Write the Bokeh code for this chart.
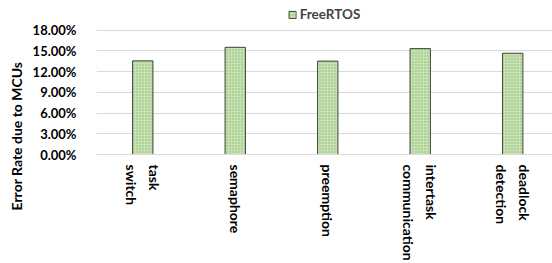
import math
from bokeh.plotting import figure
from bokeh.models import (ColumnDataSource, Range1d, FixedTicker, NumeralTickFormatter,
                          Legend, LegendItem, Title)
from bokeh.embed import file_html
from bokeh.resources import INLINE

categories = ["task\nswitch", "semaphore", "preemption", "intertask\ncommunication", "deadlock\ndetection"]
freertos = [0.1356, 0.1552, 0.1352, 0.1533, 0.1466]
y_ticks = [0.0, 0.03, 0.06, 0.09, 0.12, 0.15, 0.18]
series_name = "FreeRTOS"
y_label = "Error Rate due to MCUs"

FONT = "Lato"
positions = [i + 0.5 for i in range(len(categories))]
src = ColumnDataSource(dict(x=positions, top=freertos, name=categories))

# frame: x from 92 to 552 px (93 px per category); y frame top extends above 18% to hold the legend
frame_top, grid_top, frame_bottom = 6, 30, 156
y_end = y_ticks[-1] * (frame_bottom - frame_top) / (frame_bottom - grid_top)

p = figure(width=552, height=263, output_backend="svg", toolbar_location=None,
           x_range=Range1d(0, 4.93), y_range=Range1d(0, y_end),
           min_border_left=92, min_border_right=0, min_border_top=frame_top,
           min_border_bottom=263 - frame_bottom)
p.outline_line_color = None
p.background_fill_color = "white"

r = p.vbar(x="x", top="top", width=0.22, source=src,
           fill_color="#c8e2b6", line_color="#3c4436", line_width=1,
           hatch_pattern="dot", hatch_color="#86b965", hatch_scale=3, hatch_weight=1.5)

p.xaxis.ticker = FixedTicker(ticks=positions)
p.xaxis.major_label_overrides = {pos: lab for pos, lab in zip(positions, categories)}
p.xaxis.major_label_orientation = -math.pi / 2
p.xaxis.major_tick_line_color = None
p.xaxis.minor_tick_line_color = None
p.xaxis.axis_line_color = "#d9d9d9"
p.xaxis.major_label_text_font = FONT
p.xaxis.major_label_text_font_style = "bold"
p.xaxis.major_label_text_font_size = "14px"
p.xaxis.major_label_text_line_height = 1.35
p.xaxis.major_label_text_align = "center"
p.xaxis.major_label_text_color = "black"
p.xaxis.major_label_standoff = 4
p.xgrid.grid_line_color = None

p.yaxis.ticker = FixedTicker(ticks=y_ticks)
p.yaxis.formatter = NumeralTickFormatter(format="0.00%")
p.yaxis.axis_line_color = None
p.yaxis.major_tick_line_color = None
p.yaxis.minor_tick_line_color = None
p.yaxis.major_label_text_font = FONT
p.yaxis.major_label_text_font_style = "bold"
p.yaxis.major_label_text_font_size = "13px"
p.yaxis.major_label_text_color = "black"
p.yaxis.major_label_standoff = 14
p.ygrid.grid_line_color = "#d9d9d9"
p.ygrid.ticker = FixedTicker(ticks=y_ticks)

ytitle = Title(text=y_label, align="left", offset=-56,
               text_font=FONT, text_font_style="bold", text_font_size="14px", text_color="black")
p.add_layout(ytitle, "left")

legend = Legend(items=[LegendItem(label=series_name, renderers=[r])],
                orientation="horizontal", location="top_center",
                margin=0, padding=3, glyph_width=9, glyph_height=9, label_height=14,
                label_standoff=3, border_line_color=None, background_fill_alpha=0,
                label_text_font=FONT, label_text_font_style="bold", label_text_font_size="13.5px")
p.add_layout(legend)

open("out.html", "w").write(file_html(p, INLINE))
